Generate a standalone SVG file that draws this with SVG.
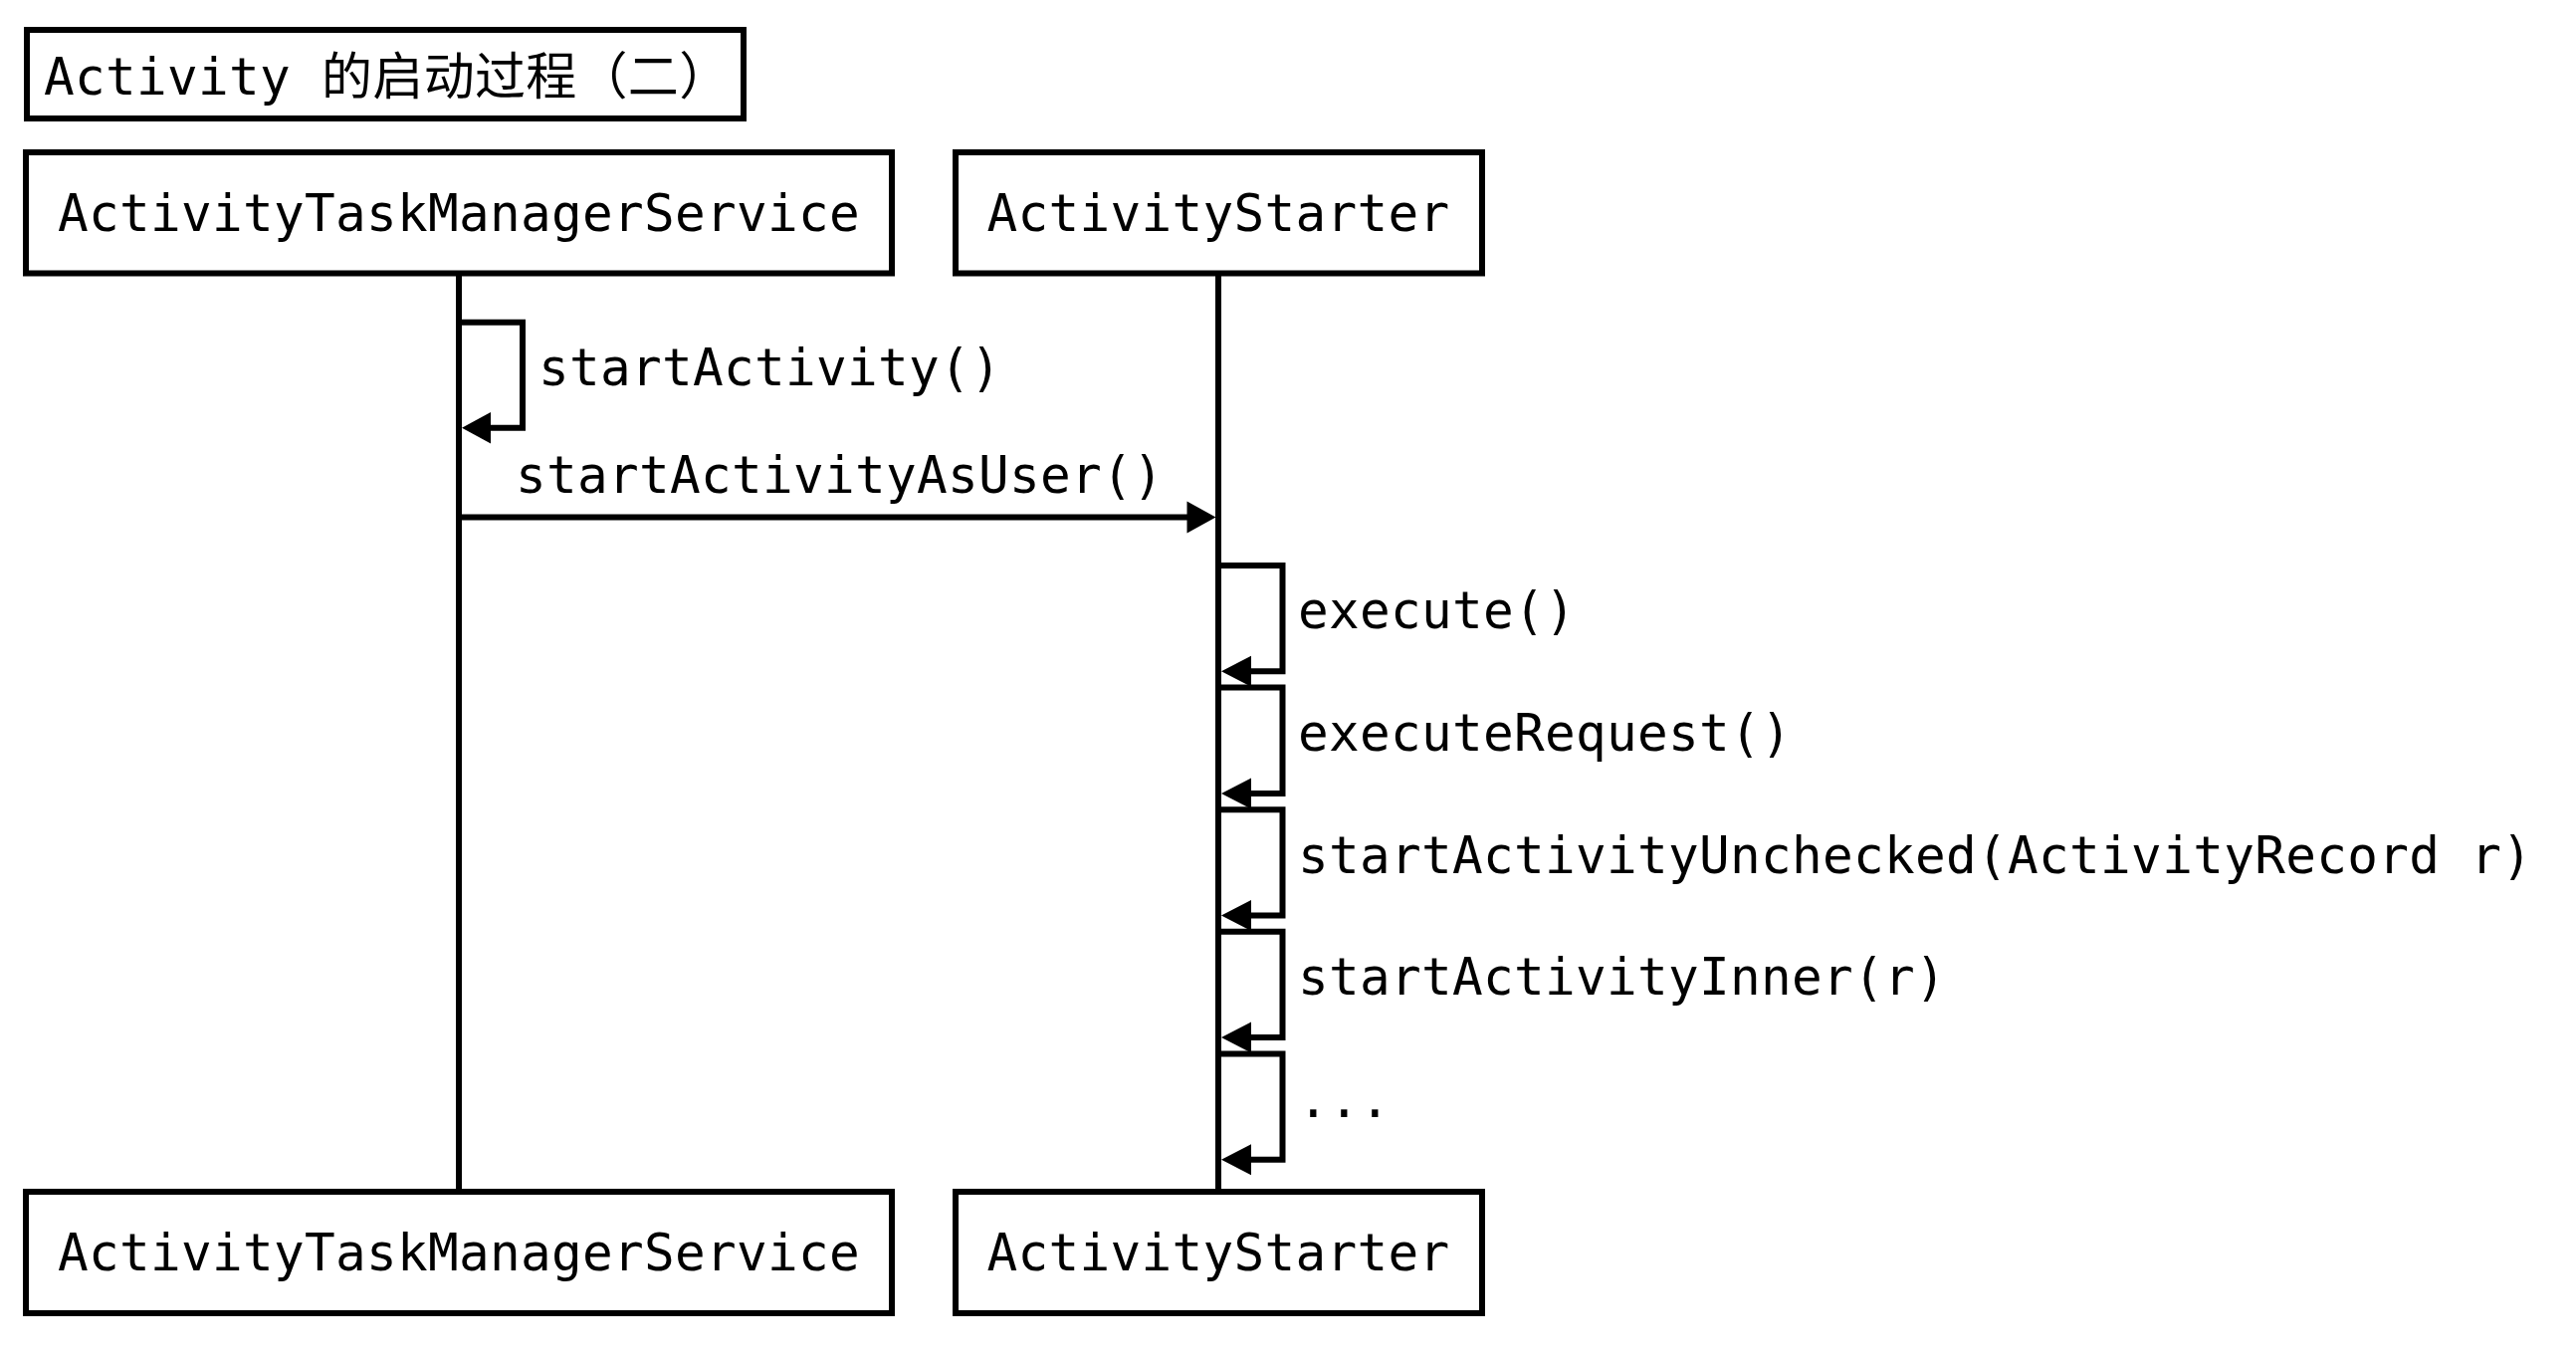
<svg xmlns="http://www.w3.org/2000/svg" width="2588" height="1368" viewBox="0 0 2588 1368">
<style>
  .box{fill:#fff;stroke:#000;stroke-width:6}
  .t{font-family:"DejaVu Sans Mono","Noto Sans CJK SC",monospace;font-size:51px;letter-spacing:0.3px;fill:#000}
  .mid{text-anchor:middle}
  .life{stroke:#000;stroke-width:6;fill:none}
  .msg{stroke:#000;stroke-width:6;fill:none;stroke-linejoin:miter;stroke-linecap:butt}
  .head{fill:#000;stroke:none}
</style>
<rect width="2588" height="1368" fill="#fff"/>
<g id="title">
  <rect class="box" x="27" y="30" width="720" height="89"/>
  <text class="t" x="44" y="95">Activity 的启动过程（二）</text>
</g>
<g id="connectors">
  <line class="life" x1="461" y1="274" x2="461" y2="1197"/>
  <line class="life" x1="1224" y1="274" x2="1224" y2="1197"/>
  <polyline class="msg" points="461,323.7 525,323.7 525,429.7 492,429.7"/>
  <polygon class="head" points="464,429.7 493,414 493,445.5"/>
  <line class="msg" x1="461" y1="519.5" x2="1194" y2="519.5"/>
  <polygon class="head" points="1221.5,519.5 1192.5,503.5 1192.5,535.5"/>
  <polyline class="msg" points="1224,568 1288.5,568 1288.5,674.3 1256,674.3"/>
  <polygon class="head" points="1227,674.3 1257,658.8 1257,689.8"/>
  <polyline class="msg" points="1224,690.6 1288.5,690.6 1288.5,796.9 1256,796.9"/>
  <polygon class="head" points="1227,796.9 1257,781.4 1257,812.4"/>
  <polyline class="msg" points="1224,813.2 1288.5,813.2 1288.5,919.5 1256,919.5"/>
  <polygon class="head" points="1227,919.5 1257,904 1257,935"/>
  <polyline class="msg" points="1224,935.8 1288.5,935.8 1288.5,1042.1 1256,1042.1"/>
  <polygon class="head" points="1227,1042.1 1257,1026.6 1257,1057.6"/>
  <polyline class="msg" points="1224,1058.4 1288.5,1058.4 1288.5,1164.7 1256,1164.7"/>
  <polygon class="head" points="1227,1164.7 1257,1149.2 1257,1180.2"/>
  <text class="t" x="541" y="387.3">startActivity()</text>
  <text class="t" x="518" y="495">startActivityAsUser()</text>
  <text class="t" x="1304" y="631.3">execute()</text>
  <text class="t" x="1304" y="753.9">executeRequest()</text>
  <text class="t" x="1304" y="876.5">startActivityUnchecked(ActivityRecord r)</text>
  <text class="t" x="1304" y="999.1">startActivityInner(r)</text>
  <text class="t" x="1304" y="1121.7">...</text>
</g>
<g id="atms-top">
  <rect class="box" x="26" y="153" width="870" height="121.5"/>
  <text class="t mid" x="461" y="232">ActivityTaskManagerService</text>
</g>
<g id="starter-top">
  <rect class="box" x="960" y="153" width="529" height="121.5"/>
  <text class="t mid" x="1224" y="232">ActivityStarter</text>
</g>
<g id="atms-bottom">
  <rect class="box" x="26" y="1197" width="870" height="122"/>
  <text class="t mid" x="461" y="1276">ActivityTaskManagerService</text>
</g>
<g id="starter-bottom">
  <rect class="box" x="960" y="1197" width="529" height="122"/>
  <text class="t mid" x="1224" y="1276">ActivityStarter</text>
</g>
</svg>
